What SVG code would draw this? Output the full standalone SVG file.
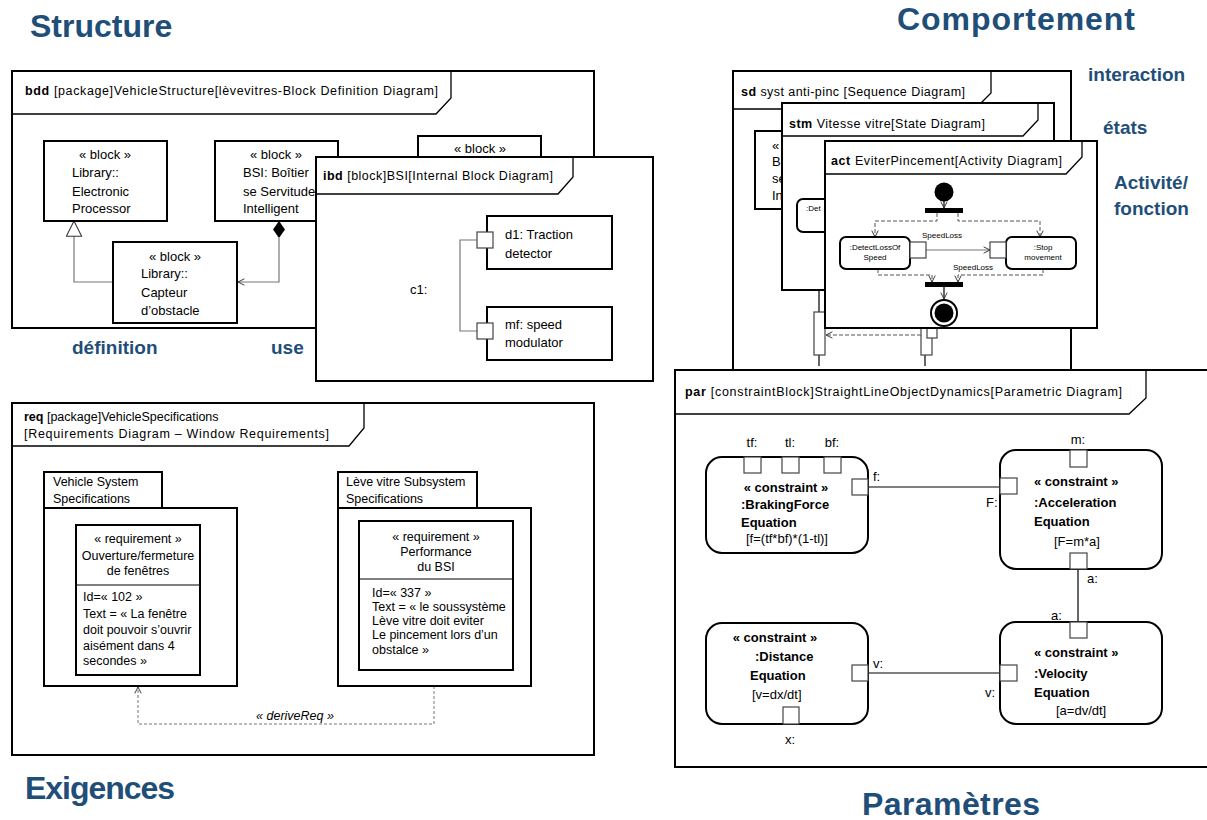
<svg xmlns="http://www.w3.org/2000/svg" width="1207" height="820" viewBox="0 0 1207 820">
<defs>
<style>
.frame{fill:#fff;stroke:#000;stroke-width:2}
.hdr{fill:none;stroke:#000;stroke-width:1.3}
.box{fill:#fff;stroke:#000;stroke-width:2}
.rbox{fill:#fff;stroke:#000;stroke-width:2}
.port{fill:#fff;stroke:#444;stroke-width:1.2}
.gline{fill:none;stroke:#777;stroke-width:1.2}
.line{fill:none;stroke:#000;stroke-width:1.2}
.dash{fill:none;stroke:#555;stroke-width:1;stroke-dasharray:4,2}
.dot{fill:none;stroke:#777;stroke-width:1;stroke-dasharray:3,2}
.t{font-family:"Liberation Sans",Arial,sans-serif;font-size:13px;fill:#000}
.h{font-family:"Liberation Sans",Arial,sans-serif;font-size:12.5px;fill:#000}
.s{font-family:"Liberation Sans",Arial,sans-serif;font-size:8px;fill:#000}
.b{font-weight:bold}
.c{text-anchor:middle}
.head{font-family:"Liberation Sans",Arial,sans-serif;font-weight:bold;font-size:32px;fill:#1F4E79}
.sub{font-family:"Liberation Sans",Arial,sans-serif;font-weight:bold;font-size:19px;fill:#1F4E79}
</style>
<marker id="open" viewBox="0 0 10 10" refX="9" refY="5" markerWidth="8" markerHeight="8" orient="auto" markerUnits="userSpaceOnUse">
<path d="M1,1 L9,5 L1,9" fill="none" stroke="#333" stroke-width="1.2"/>
</marker>
<marker id="tri" viewBox="0 0 20 20" refX="19" refY="10" markerWidth="17" markerHeight="17" orient="auto" markerUnits="userSpaceOnUse">
<path d="M1,1 L19,10 L1,19 Z" fill="#fff" stroke="#333" stroke-width="1.2"/>
</marker>
</defs>

<!-- Headings -->
<g id="headings">
<text class="head" x="30" y="37">Structure</text>
<text class="head" x="897" y="30" textLength="238">Comportement</text>
<text class="head" x="25" y="799" textLength="150">Exigences</text>
<text class="head" x="862" y="815" textLength="178">Paramètres</text>
<text class="sub" x="72" y="354">définition</text>
<text class="sub" x="271" y="354">use</text>
<text class="sub" x="1088" y="81">interaction</text>
<text class="sub" x="1103" y="134">états</text>
<text class="sub" x="1114" y="189">Activité/</text>
<text class="sub" x="1114" y="215">fonction</text>
</g>

<!-- BDD -->
<g id="bdd">
<rect class="frame" x="12" y="71" width="582" height="257"/>
<path class="hdr" d="M12,114 H436 L451,98 V71"/>
<text class="h" x="25" y="95" textLength="413"><tspan class="b">bdd</tspan> [package]VehicleStructure[lèvevitres-Block  Definition  Diagram]</text>
</g>
<g id="bdd-connectors">
<path class="gline" d="M113,282 H74 V221" marker-end="url(#tri)"/>
<path class="gline" d="M279,238 V282 H238" marker-end="url(#open)"/>
<path d="M279,221 L285,229.5 L279,238 L273,229.5 Z" fill="#000"/>
</g>
<g id="block-processor">
<rect class="box" x="44" y="141" width="123" height="80"/>
<text class="t c" x="105" y="159">« block »</text>
<text class="t" x="72" y="177">Library::</text>
<text class="t" x="72" y="196">Electronic</text>
<text class="t" x="72" y="213">Processor</text>
</g>
<g id="block-bsi">
<rect class="box" x="215" y="141" width="123" height="80"/>
<text class="t c" x="276" y="159">« block »</text>
<text class="t" x="243" y="177">BSI: Boîtier</text>
<text class="t" x="243" y="196">se Servitude</text>
<text class="t" x="243" y="213">Intelligent</text>
</g>
<g id="block-capteur">
<rect class="box" x="113" y="242" width="124" height="81"/>
<text class="t c" x="175" y="261">« block »</text>
<text class="t" x="141" y="278">Library::</text>
<text class="t" x="141" y="297">Capteur</text>
<text class="t" x="141" y="315">d’obstacle</text>
</g>
<g id="block-4">
<rect class="box" x="418" y="136" width="123" height="60"/>
<text class="t c" x="480" y="153">« block »</text>
</g>

<!-- IBD -->
<g id="ibd">
<rect class="frame" x="316" y="157" width="337" height="224"/>
<path class="hdr" d="M316,194 H558 L573,177 V157"/>
<text class="h" x="323" y="180" textLength="230"><tspan class="b">ibd</tspan> [block]BSI[Internal  Block Diagram]</text>
<text class="t" x="410" y="294">c1:</text>
</g>
<g id="ibd-connectors">
<path class="gline" d="M477,240 H460 V331 H477"/>
</g>
<g id="part-d1">
<rect class="box" x="487" y="216" width="125" height="53"/>
<rect class="port" x="477" y="232" width="16" height="16"/>
<text class="t" x="505" y="239">d1: Traction</text>
<text class="t" x="505" y="258">detector</text>
</g>
<g id="part-mf">
<rect class="box" x="487" y="307" width="125" height="53"/>
<rect class="port" x="477" y="323" width="16" height="16"/>
<text class="t" x="505" y="329">mf: speed</text>
<text class="t" x="505" y="347">modulator</text>
</g>

<!-- SD -->
<g id="sd">
<rect class="frame" x="733" y="71" width="338" height="299"/>
<path class="hdr" d="M733,109 H975 L991,93 V71"/>
<text class="h" x="741" y="96" textLength="224"><tspan class="b">sd</tspan> syst anti-pinc [Sequence  Diagram]</text>
<rect class="box" x="755" y="131" width="60" height="78"/>
<text class="t" x="772" y="150">«</text>
<text class="t" x="772" y="166">B</text>
<text class="t" x="772" y="183">se</text>
<text class="t" x="772" y="200">In</text>
<path class="line" d="M819,285 V312 M819,355 V366 M925,320 V328 M925,355 V366"/>
<rect class="port" x="814" y="312" width="11" height="43"/>
<rect class="port" x="921" y="322" width="11" height="33"/>
<rect class="port" x="927" y="322" width="10" height="16"/>
<path class="dash" d="M921,335 H826" marker-end="url(#open)"/>
</g>

<!-- STM -->
<g id="stm">
<rect class="frame" x="782" y="103" width="272" height="187"/>
<path class="hdr" d="M782,136 H1023 L1038,120 V103"/>
<text class="h" x="789" y="128" textLength="196"><tspan class="b">stm</tspan> Vitesse vitre[State Diagram]</text>
<rect class="rbox" x="797" y="199" width="60" height="33" rx="6"/>
<text class="s" x="806" y="211">:Det</text>
</g>

<!-- ACT -->
<g id="act">
<rect class="frame" x="825" y="141" width="272" height="187"/>
<path class="hdr" d="M825,174 H1066 L1082,157 V141"/>
<text class="h" x="831" y="165" textLength="231"><tspan class="b">act</tspan> EviterPincement[Activity  Diagram]</text>
</g>
<g id="act-connectors">
<path class="line" d="M944,201 V208" marker-end="url(#open)"/>
<path class="dash" d="M937,213 V221 H875 V237" marker-end="url(#open)"/>
<path class="dash" d="M958,213 V221 H1040 V237" marker-end="url(#open)"/>
<path class="gline" d="M926,250 H990" marker-end="url(#open)"/>
<path class="dash" d="M878,269 V275 H932 V282" marker-end="url(#open)"/>
<path class="dash" d="M1043,269 V275 H958 V282" marker-end="url(#open)"/>
<path class="line" d="M944,287 V299" marker-end="url(#open)"/>
<text class="s" x="922" y="238">SpeedLoss</text>
<text class="s" x="953" y="270">SpeedLoss</text>
</g>
<g id="act-initial"><circle cx="944" cy="192" r="9.5" fill="#000"/></g>
<g id="act-fork"><rect x="925" y="208" width="38" height="5" fill="#000"/></g>
<g id="act-join"><rect x="925" y="282" width="38" height="5" fill="#000"/></g>
<g id="act-final"><circle cx="944" cy="313" r="13" fill="#fff" stroke="#000" stroke-width="2"/><circle cx="944" cy="313" r="9.5" fill="#000"/></g>
<g id="action-detect">
<rect class="rbox" x="840" y="237" width="70" height="32" rx="6"/>
<rect class="port" x="910" y="242" width="16" height="16"/>
<text class="s c" x="875" y="250">:DetectLossOf</text>
<text class="s c" x="875" y="260">Speed</text>
</g>
<g id="action-stop">
<rect class="rbox" x="1006" y="237" width="70" height="32" rx="6"/>
<rect class="port" x="990" y="242" width="16" height="16"/>
<text class="s c" x="1043" y="250">:Stop</text>
<text class="s c" x="1043" y="260">movement</text>
</g>

<!-- REQ -->
<g id="req">
<rect class="frame" x="12" y="403" width="582" height="352"/>
<path class="hdr" d="M12,446 H349 L364,428 V403"/>
<text class="h" x="24" y="421"><tspan class="b">req</tspan> [package]VehicleSpecifications</text>
<text class="h" x="24" y="438" textLength="305">[Requirements Diagram – Window Requirements]</text>
</g>
<g id="req-connectors">
<path class="dot" d="M434,686 V724 H138 V687" marker-end="url(#open)"/>
<text class="h c" x="295" y="720" font-style="italic">« deriveReq »</text>
</g>
<g id="pkg-vehicle">
<rect class="box" x="44" y="472" width="118" height="36"/>
<rect class="box" x="44" y="508" width="193" height="178"/>
<text class="h" x="53" y="486">Vehicle System</text>
<text class="h" x="53" y="503">Specifications</text>
</g>
<g id="req-102">
<rect class="box" x="76" y="525" width="124" height="150"/>
<line class="line" x1="76" y1="585" x2="200" y2="585" stroke-width="2"/>
<text class="h c" x="138" y="543">« requirement »</text>
<text class="h c" x="138" y="560">Ouverture/fermeture</text>
<text class="h c" x="138" y="575">de fenêtres</text>
<text class="h" x="83" y="601">Id=« 102 »</text>
<text class="h" x="83" y="618">Text = « La fenêtre</text>
<text class="h" x="83" y="634">doit pouvoir s’ouvrir</text>
<text class="h" x="83" y="650">aisément dans 4</text>
<text class="h" x="83" y="665">secondes »</text>
</g>
<g id="pkg-leve">
<rect class="box" x="338" y="472" width="139" height="36"/>
<rect class="box" x="338" y="508" width="193" height="178"/>
<text class="h" x="346" y="486">Lève vitre Subsystem</text>
<text class="h" x="346" y="503">Specifications</text>
</g>
<g id="req-337">
<rect class="box" x="359" y="521" width="154" height="149"/>
<line class="line" x1="359" y1="579" x2="513" y2="579" stroke-width="2"/>
<text class="h c" x="436" y="541">« requirement »</text>
<text class="h c" x="436" y="556">Performance</text>
<text class="h c" x="436" y="571">du BSI</text>
<text class="h" x="372" y="597">Id=« 337 »</text>
<text class="h" x="372" y="611">Text = « le soussystème</text>
<text class="h" x="372" y="625">Lève vitre doit eviter</text>
<text class="h" x="372" y="639">Le pincement lors d’un</text>
<text class="h" x="372" y="654">obstalce »</text>
</g>

<!-- PAR -->
<g id="par">
<rect class="frame" x="675" y="370" width="545" height="397"/>
<path class="hdr" d="M675,414 H1129 L1146,398 V370"/>
<text class="h" x="685" y="396" textLength="437"><tspan class="b">par</tspan> [constraintBlock]StraightLineObjectDynamics[Parametric  Diagram]</text>
</g>
<g id="par-connectors">
<path class="line" d="M868,487 H1000"/>
<path class="line" d="M868,673 H1000"/>
<path class="line" d="M1078,569 V622"/>
<text class="t" x="873" y="481">f:</text>
<text class="t" x="986" y="507">F:</text>
<text class="t" x="873" y="668">v:</text>
<text class="t" x="985" y="697">v:</text>
<text class="t" x="1087" y="583">a:</text>
<text class="t" x="1051" y="620">a:</text>
</g>
<g id="c-braking">
<rect class="rbox" x="706" y="457" width="162" height="96" rx="16"/>
<rect class="port" x="744" y="457" width="17" height="16"/>
<rect class="port" x="782" y="457" width="17" height="16"/>
<rect class="port" x="824" y="457" width="17" height="16"/>
<rect class="port" x="852" y="479" width="16" height="16"/>
<text class="t c" x="752" y="447">tf:</text>
<text class="t c" x="790" y="447">tl:</text>
<text class="t c" x="832" y="447">bf:</text>
<text class="t b c" x="786" y="492">« constraint »</text>
<text class="t b" x="741" y="509">:BrakingForce</text>
<text class="t b" x="741" y="527">Equation</text>
<text class="t" x="746" y="543">[f=(tf*bf)*(1-tl)]</text>
</g>
<g id="c-acceleration">
<rect class="rbox" x="1000" y="450" width="162" height="119" rx="16"/>
<rect class="port" x="1070" y="450" width="17" height="17"/>
<rect class="port" x="1000" y="478" width="17" height="16"/>
<rect class="port" x="1070" y="553" width="17" height="16"/>
<text class="t c" x="1078" y="444">m:</text>
<text class="t b" x="1034" y="486">« constraint »</text>
<text class="t b" x="1034" y="507">:Acceleration</text>
<text class="t b" x="1034" y="526">Equation</text>
<text class="t" x="1054" y="546">[F=m*a]</text>
</g>
<g id="c-velocity">
<rect class="rbox" x="1000" y="622" width="162" height="102" rx="16"/>
<rect class="port" x="1070" y="622" width="17" height="16"/>
<rect class="port" x="1000" y="665" width="17" height="16"/>
<text class="t b" x="1034" y="657">« constraint »</text>
<text class="t b" x="1034" y="678">:Velocity</text>
<text class="t b" x="1034" y="697">Equation</text>
<text class="t" x="1056" y="715">[a=dv/dt]</text>
</g>
<g id="c-distance">
<rect class="rbox" x="706" y="623" width="162" height="101" rx="16"/>
<rect class="port" x="852" y="665" width="16" height="16"/>
<rect class="port" x="783" y="707" width="16" height="17"/>
<text class="t c" x="790" y="744">x:</text>
<text class="t b c" x="775" y="642">« constraint »</text>
<text class="t b" x="755" y="661">:Distance</text>
<text class="t b" x="750" y="680">Equation</text>
<text class="t" x="752" y="699">[v=dx/dt]</text>
</g>
</svg>
